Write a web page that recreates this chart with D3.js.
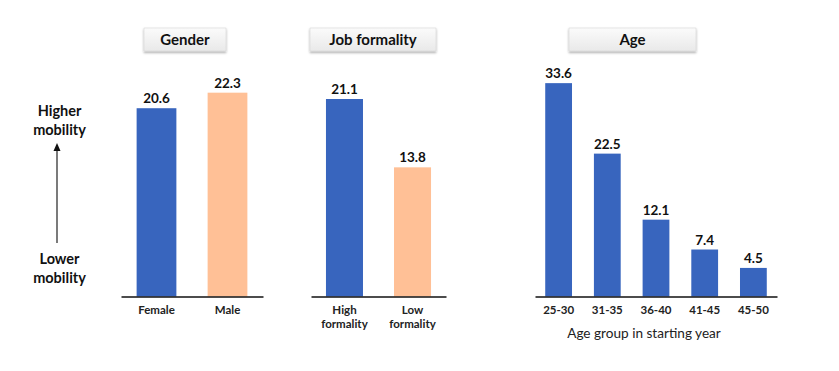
<!DOCTYPE html>
<html>
<head>
<meta charset="utf-8">
<script src="https://cdn.jsdelivr.net/npm/d3@7"></script>
<style>
  body { margin: 0; background: #fff; }
  svg { display: block; font-family: Lato, "Open Sans", sans-serif; }
</style>
</head>
<body>
<div id="chart"></div>
<script>
// data
const genderCats = ['Female', 'Male'];
const genderVals = [20.6, 22.3];
const jobCats = ['High formality', 'Low formality'];
const jobVals = [21.1, 13.8];
const ageCats = ['25-30', '31-35', '36-40', '41-45', '45-50'];
const ageVals = [33.6, 22.5, 12.1, 7.4, 4.5];

const blue = '#3865be', peach = '#ffc096';
const width = 839, height = 371, base = 296.5;

const svg = d3.select('#chart').append('svg').attr('width', width).attr('height', height);

const defs = svg.append('defs');
const grad = defs.append('linearGradient').attr('id', 'boxgrad').attr('x1', 0).attr('y1', 0).attr('x2', 0).attr('y2', 1);
grad.append('stop').attr('offset', '0%').attr('stop-color', '#fbfbfb');
grad.append('stop').attr('offset', '100%').attr('stop-color', '#e9e9e9');
const filt = defs.append('filter').attr('id', 'shadow').attr('x', '-20%').attr('y', '-30%').attr('width', '140%').attr('height', '180%');
filt.append('feDropShadow').attr('dx', 0).attr('dy', 1.5).attr('stdDeviation', 1.2).attr('flood-color', '#000').attr('flood-opacity', 0.35);

function panel(cats, vals, colors, opt) {
  const x = d3.scaleBand().domain(cats).range(opt.xr).paddingInner(opt.pi).paddingOuter(opt.po);
  const y = d3.scaleLinear().domain([0, opt.ymax]).range([base, opt.ytop]);
  const g = svg.append('g');

  g.selectAll('rect.bar').data(cats).join('rect')
    .attr('class', 'bar')
    .attr('x', d => x(d))
    .attr('width', x.bandwidth())
    .attr('y', (d, i) => y(vals[i]))
    .attr('height', (d, i) => base - y(vals[i]))
    .attr('fill', (d, i) => colors[i]);

  g.selectAll('text.val').data(cats).join('text')
    .attr('class', 'val')
    .attr('x', d => x(d) + x.bandwidth() / 2)
    .attr('y', (d, i) => y(vals[i]) - 5)
    .attr('text-anchor', 'middle')
    .attr('font-size', 13.5).attr('font-weight', 700).attr('fill', '#111')
    .text((d, i) => vals[i].toFixed(1));

  const axis = g.append('g').attr('transform', `translate(0,${base})`)
    .call(d3.axisBottom(x).tickSize(0).tickPadding(0));
  axis.select('.domain').attr('stroke', '#111').attr('stroke-width', 1.3);
  axis.selectAll('.tick text').remove();
  axis.selectAll('.tick').each(function(d) {
    const words = opt.wrap ? d.split(' ') : [d];
    const t = d3.select(this).append('text')
      .attr('text-anchor', 'middle').attr('fill', '#222')
      .attr('font-size', 11.5).attr('font-weight', 700)
      .attr('font-family', 'Lato, sans-serif');
    words.forEach((w, i) => t.append('tspan').attr('x', 0).attr('y', 17 + i * 14).text(w));
  });

  // title box
  const b = opt.box;
  g.append('rect').attr('x', b[0]).attr('y', 28).attr('width', b[1] - b[0]).attr('height', 23)
    .attr('fill', 'url(#boxgrad)').attr('stroke', '#d6d6d6').attr('stroke-width', 0.6)
    .attr('filter', 'url(#shadow)');
  g.append('text').attr('x', (b[0] + b[1]) / 2).attr('y', 45)
    .attr('text-anchor', 'middle').attr('font-size', 15).attr('font-weight', 700).attr('fill', '#111')
    .text(opt.title);
  return g;
}

panel(genderCats, genderVals, [blue, peach],
  {xr: [121, 263], pi: 0.44, po: 0.22, ymax: 25, ytop: 68, box: [144, 226], title: 'Gender'});
panel(jobCats, jobVals, [blue, peach],
  {xr: [311, 446], pi: 0.456, po: 0.22, ymax: 25, ytop: 62.5, box: [310, 436], title: 'Job formality', wrap: true});
panel(ageCats, ageVals, ageCats.map(() => blue),
  {xr: [535, 777], pi: 0.45, po: 0.21, ymax: 40, ytop: 42.5, box: [569, 696], title: 'Age'});

svg.append('text').attr('x', 644).attr('y', 338).attr('text-anchor', 'middle')
  .attr('font-size', 13.6).attr('fill', '#222').text('Age group in starting year');

// left annotation
const ann = svg.append('g').attr('font-size', 14.5).attr('font-weight', 700).attr('fill', '#111').attr('text-anchor', 'middle');
ann.append('text').attr('x', 59.5).attr('y', 116).text('Higher');
ann.append('text').attr('x', 59.5).attr('y', 135).text('mobility');
ann.append('text').attr('x', 59.5).attr('y', 264).text('Lower');
ann.append('text').attr('x', 59.5).attr('y', 283).text('mobility');
svg.append('line').attr('x1', 57).attr('x2', 57).attr('y1', 243).attr('y2', 150)
  .attr('stroke', '#222').attr('stroke-width', 1.2);
svg.append('path').attr('d', 'M57,143 L53.5,151 L60.5,151 Z').attr('fill', '#111');
</script>
</body>
</html>
